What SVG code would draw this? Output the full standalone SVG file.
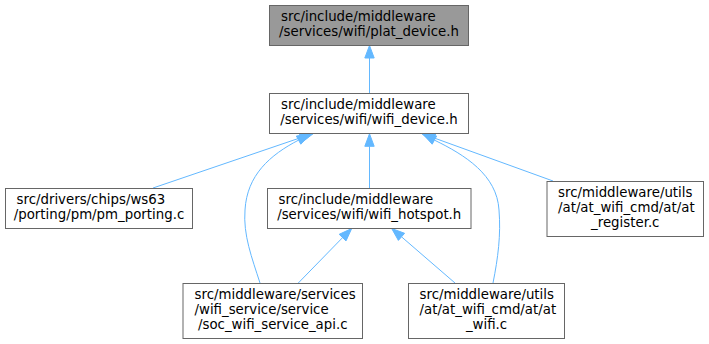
<svg xmlns="http://www.w3.org/2000/svg" width="709" height="344" viewBox="0 0 709 344">
<style>
.box{fill:#ffffff;stroke:#666666;stroke-width:1}
.hl{fill:#999999;stroke:#666666;stroke-width:1}
text{font-family:"DejaVu Sans","Liberation Sans",sans-serif;font-size:13.33px;fill:#000000}
.c{text-anchor:middle}
.edge{fill:none;stroke:#63b8ff;stroke-width:1}
.head{fill:#63b8ff;stroke:#63b8ff;stroke-width:1}
</style>
<rect width="709" height="344" fill="#ffffff"/>
<g id="connectors">
  <path class="edge" d="M369.5,93 L369.5,58"/>
  <polygon class="head" points="369.5,45.5 374.2,58 364.8,58"/>
  <path class="edge" d="M369.5,188 L369.5,146.3"/>
  <polygon class="head" points="369.5,133.8 374.2,146.3 364.8,146.3"/>
  <path class="edge" d="M153,188 L300.7,137.7"/>
  <polygon class="head" points="313,133.8 302.2,142.2 299.2,133.3"/>
  <path class="edge" d="M260,283 C252,258 243,235 245,210 C247,175 270,155 298.6,140.1"/>
  <polygon class="head" points="310,134.2 300.8,144.2 296.4,136"/>
  <path class="edge" d="M553,181 L434.2,138"/>
  <polygon class="head" points="422,133.8 435.8,133.6 432.6,142.4"/>
  <path class="edge" d="M493,283 C498,258 501,235 499,210 C497,175 465,155 434.4,140.1"/>
  <polygon class="head" points="423,134.2 436.6,136 432.2,144.2"/>
  <path class="edge" d="M298.3,283 L342.6,237.6"/>
  <polygon class="head" points="351.7,228.5 346,240.9 339.2,234.3"/>
  <path class="edge" d="M455,283 L401.5,236.8"/>
  <polygon class="head" points="391.7,228.5 404.6,233.3 398.4,240.4"/>
</g>
<g id="node-plat_device">
  <rect class="hl" x="269.5" y="5.5" width="199" height="40"/>
  <text x="281" y="20.5">src/include/middleware</text>
  <text class="c" x="369" y="35.5">/services/wifi/plat_device.h</text>
</g>
<g id="node-wifi_device">
  <rect class="box" x="269.5" y="93.5" width="199" height="40"/>
  <text x="281" y="108.8">src/include/middleware</text>
  <text class="c" x="369" y="123.8">/services/wifi/wifi_device.h</text>
</g>
<g id="node-pm_porting">
  <rect class="box" x="5.5" y="188.5" width="187" height="40"/>
  <text x="16.5" y="203.8">src/drivers/chips/ws63</text>
  <text class="c" x="99" y="218.8">/porting/pm/pm_porting.c</text>
</g>
<g id="node-wifi_hotspot">
  <rect class="box" x="267.5" y="188.5" width="203.5" height="40"/>
  <text x="278.5" y="203.8">src/include/middleware</text>
  <text class="c" x="369.25" y="218.8">/services/wifi/wifi_hotspot.h</text>
</g>
<g id="node-at_register">
  <rect class="box" x="547" y="181.5" width="156.5" height="55"/>
  <text x="558" y="196.8">src/middleware/utils</text>
  <text x="558" y="211.8">/at/at_wifi_cmd/at/at</text>
  <text class="c" x="625.25" y="226.8">_register.c</text>
</g>
<g id="node-soc_wifi_service_api">
  <rect class="box" x="183" y="283.5" width="179.5" height="55"/>
  <text x="194.5" y="298.8">src/middleware/services</text>
  <text x="194.5" y="313.8">/wifi_service/service</text>
  <text class="c" x="272.75" y="328.8">/soc_wifi_service_api.c</text>
</g>
<g id="node-at_wifi">
  <rect class="box" x="408.5" y="283.5" width="156" height="55"/>
  <text x="419.5" y="298.8">src/middleware/utils</text>
  <text x="419.5" y="313.8">/at/at_wifi_cmd/at/at</text>
  <text class="c" x="486.5" y="328.8">_wifi.c</text>
</g>
</svg>
